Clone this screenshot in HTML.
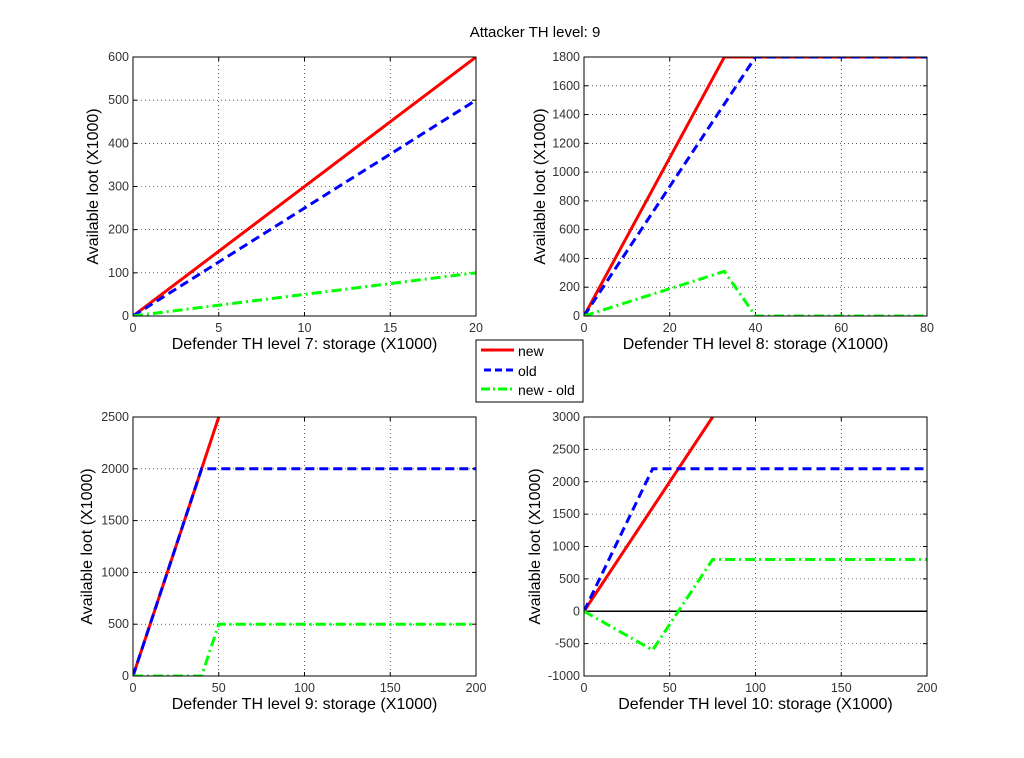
<!DOCTYPE html><html><head><style>body{margin:0;background:#fff}svg{display:block}text{font-family:"Liberation Sans",sans-serif}</style></head><body>
<svg id="s" width="1024" height="758" xmlns="http://www.w3.org/2000/svg">
<rect width="1024" height="758" fill="#fff"/>
<text x="535" y="37" font-size="15" text-anchor="middle">Attacker TH level: 9</text>
</svg>
<script>
const s=document.getElementById('s');let h='';
function ax(L,T,R,B,x0,x1,y0,y1,xt,yt,xl,ylx,series,zero){
 const X=v=>L+(v-x0)/(x1-x0)*(R-L),Y=v=>B-(v-y0)/(y1-y0)*(B-T);
 h+=`<rect x="${L}" y="${T}" width="${R-L}" height="${B-T}" fill="#fff"/>`;
 xt.forEach(v=>{const x=X(v);if(v!=x0&&v!=x1)h+=`<line x1="${x}" y1="${T}" x2="${x}" y2="${B}" stroke="#000" stroke-width="0.6" stroke-dasharray="1,3"/>`;
  h+=`<line x1="${x}" y1="${B}" x2="${x}" y2="${B-4}" stroke="#000"/><line x1="${x}" y1="${T}" x2="${x}" y2="${T+4}" stroke="#000"/><text x="${x}" y="${B+16}" font-size="12.5" fill="#333" text-anchor="middle">${v}</text>`;});
 yt.forEach(v=>{const y=Y(v);if(v!=y0&&v!=y1)h+=`<line x1="${L}" y1="${y}" x2="${R}" y2="${y}" stroke="#000" stroke-width="0.6" stroke-dasharray="1,3"/>`;
  h+=`<line x1="${L}" y1="${y}" x2="${L+4}" y2="${y}" stroke="#000"/><line x1="${R}" y1="${y}" x2="${R-4}" y2="${y}" stroke="#000"/><text x="${L-4}" y="${y+4}" font-size="12.5" fill="#333" text-anchor="end">${v}</text>`;});
 if(zero)h+=`<line x1="${L}" y1="${Y(0)}" x2="${R}" y2="${Y(0)}" stroke="#000" stroke-width="1.5"/>`;
 h+=`<svg x="${L}" y="${T}" width="${R-L}" height="${B-T}" overflow="hidden"><g transform="translate(${-L},${-T})">`;
 series.forEach(([pts,c,d])=>{h+=`<polyline fill="none" stroke="${c}" stroke-width="3" ${d?`stroke-dasharray="${d}"`:''} points="${pts.map(p=>X(p[0])+','+Y(p[1])).join(' ')}"/>`;});
 h+=`</g></svg><rect x="${L}" y="${T}" width="${R-L}" height="${B-T}" fill="none" stroke="#000"/>`;
 h+=`<text x="${(L+R)/2}" y="${B+33}" font-size="16" text-anchor="middle">${xl}</text>`;
 h+=`<text transform="translate(${ylx},${(T+B)/2}) rotate(-90)" font-size="16" text-anchor="middle">Available loot (X1000)</text>`;
}
const r='#f00',b='#00f',g='#0f0',DA='9,5',DD='10,4,2,4';
const rng=(a,b,st)=>{let o=[];for(let v=a;v<=b+1e-9;v+=st)o.push(v);return o};
ax(133,57,476,316,0,20,0,600,rng(0,20,5),rng(0,600,100),'Defender TH level 7: storage (X1000)',98,
 [[[[0,0],[20,600]],r],[[[0,0],[20,500]],b,DA],[[[0,0],[20,100]],g,DD]]);
ax(584,57,927,316,0,80,0,1800,rng(0,80,20),rng(0,1800,200),'Defender TH level 8: storage (X1000)',545,
 [[[[0,0],[32.73,1800],[80,1800]],r],[[[0,0],[40,1800],[80,1800]],b,DA],[[[0,0],[32.73,310],[40,0],[80,0]],g,DD]]);
ax(133,417,476,676,0,200,0,2500,rng(0,200,50),rng(0,2500,500),'Defender TH level 9: storage (X1000)',92,
 [[[[0,0],[50,2500]],r],[[[0,0],[40,2000],[200,2000]],b,DA],[[[0,0],[40,0],[50,500],[200,500]],g,DD]]);
ax(584,417,927,676,0,200,-1000,3000,rng(0,200,50),rng(-1000,3000,500),'Defender TH level 10: storage (X1000)',540,
 [[[[0,0],[75,3000]],r],[[[0,0],[40,2200],[200,2200]],b,DA],[[[0,0],[40,-600],[75,800],[200,800]],g,DD]],true);
h+=`<rect x="476" y="340" width="107" height="62" fill="#fff" stroke="#000"/>
<line x1="481" y1="350" x2="514" y2="350" stroke="${r}" stroke-width="3"/><text x="518" y="356" font-size="14">new</text>
<line x1="484" y1="370" x2="514" y2="370" stroke="${b}" stroke-width="3" stroke-dasharray="7,4"/><text x="518" y="376" font-size="14">old</text>
<line x1="481" y1="389" x2="514" y2="389" stroke="${g}" stroke-width="3" stroke-dasharray="9,3,2,3"/><text x="518" y="395" font-size="14">new - old</text>`;
s.insertAdjacentHTML('beforeend',h);
</script></body></html>
